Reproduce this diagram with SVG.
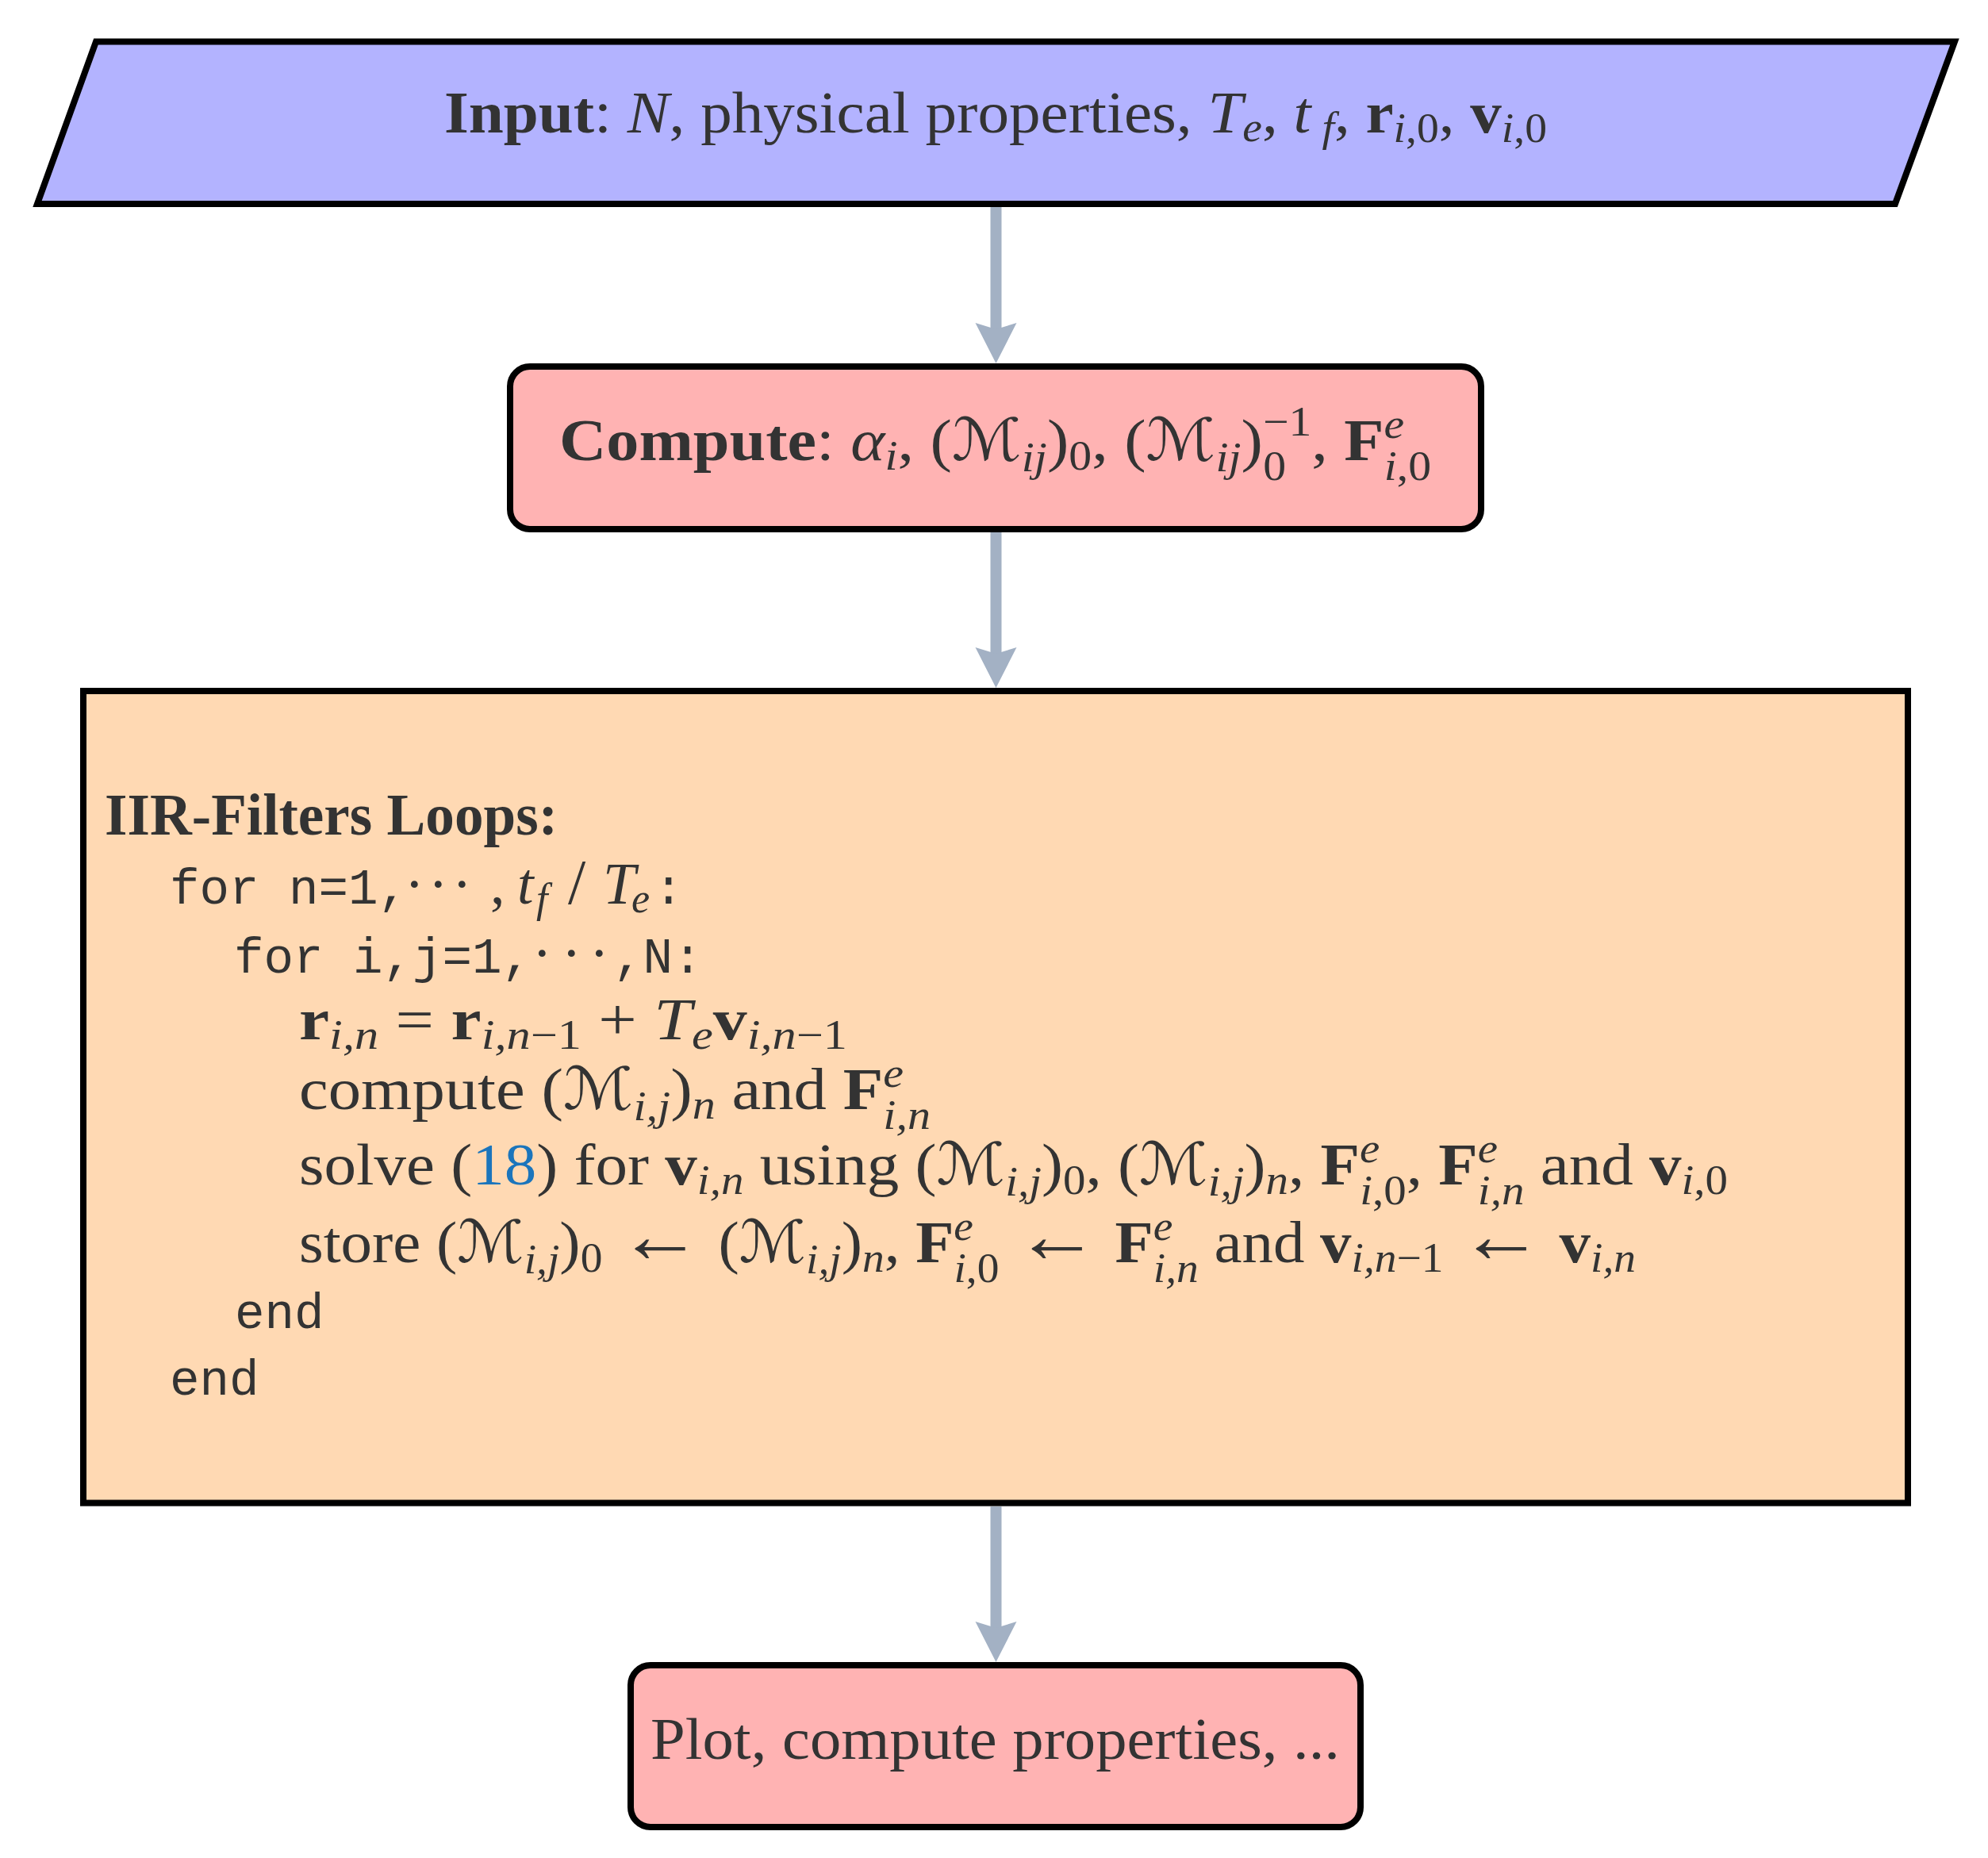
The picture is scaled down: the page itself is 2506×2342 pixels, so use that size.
<svg xmlns="http://www.w3.org/2000/svg" width="2506" height="2342" viewBox="0 0 2506 2342">
<style>
.node{stroke:#000;stroke-width:8;stroke-linejoin:miter}
.in{fill:#B3B3FF}
.pk{fill:#FFB3B3}
.or{fill:#FFD9B3}
.conn{fill:none;stroke:#A3B1C4;stroke-width:14}
.t{font-family:"Liberation Serif","DejaVu Serif",serif;font-size:74px;fill:#333333}
.m{font-family:"Liberation Mono","DejaVu Sans Mono",monospace;font-size:62.5px;fill:#333333}
.b{font-weight:bold}
.i{font-style:italic}
.s{font-size:52px}
.cal{font-family:"DejaVu Sans",sans-serif;font-size:74px;font-style:normal;font-weight:normal}
.ar{font-family:"Liberation Serif","DejaVu Serif",serif;font-size:100px;font-style:normal;font-weight:normal}
.ref{fill:#1B75BC}
</style>
<defs>
<marker id="ah" markerUnits="userSpaceOnUse" viewBox="-10 -27 55 54" refX="0" refY="0" markerWidth="55" markerHeight="54" orient="auto">
<path d="M43,0 L-8,-26 L0,0 L-8,26 Z" fill="#A3B1C4"/>
</marker>
</defs>
<rect width="2506" height="2342" fill="#fff"/>

<g id="input">
<polygon class="node in" points="121,52.5 2464,52.5 2389,257 47,257"/>
<text class="t" x="560" y="167" textLength="1390" lengthAdjust="spacingAndGlyphs"><tspan class="b">Input</tspan>: <tspan class="i">N</tspan>, physical properties, <tspan class="i">T</tspan><tspan class="s i" dy="11">e</tspan><tspan dy="-11">, </tspan><tspan class="i">t</tspan><tspan class="s i" dy="11"> f</tspan><tspan dy="-11">, </tspan><tspan class="b">r</tspan><tspan class="s" dy="12"><tspan class="i">i</tspan>,0</tspan><tspan dy="-12">, </tspan><tspan class="b">v</tspan><tspan class="s" dy="12"><tspan class="i">i</tspan>,0</tspan></text>
</g>

<g id="compute">
<rect class="node pk" x="643" y="462" width="1224" height="205" rx="25"/>
<text class="t" x="705" y="580" textLength="1099" lengthAdjust="spacingAndGlyphs"><tspan class="b">Compute</tspan>: <tspan class="i">α</tspan><tspan class="s i" dy="12">i</tspan><tspan dy="-12">, (</tspan><tspan class="cal">ℳ</tspan><tspan class="s i" dy="14">ij</tspan><tspan dy="-14">)</tspan><tspan class="s" dy="12">0</tspan><tspan dy="-12">, (</tspan><tspan class="cal">ℳ</tspan><tspan class="s i" dy="14">ij</tspan><tspan dy="-14">)</tspan><tspan class="s" dy="-31">−1</tspan><tspan class="s" dx="-55" dy="56">0</tspan><tspan dx="29" dy="-25">, </tspan><tspan class="b">F</tspan><tspan class="s i" dy="-28">e</tspan><tspan class="s" dx="-23" dy="53"><tspan class="i">i</tspan>,0</tspan></text>
</g>

<g id="loops">
<rect class="node or" x="105" y="871" width="2300" height="1023.5"/>
<text class="t b" x="132" y="1052" textLength="571" lengthAdjust="spacingAndGlyphs">IIR-Filters Loops:</text>
<text class="m" x="214" y="1139">for n=1,</text>
<text class="t" y="1139" x="510 540 570">···</text>
<text class="t" x="618" y="1139">,</text>
<text class="t i" x="652" y="1139">t<tspan class="s" x="676" dy="11">f</tspan><tspan x="716" dy="-11" style="font-style:normal;font-size:80px">/</tspan><tspan x="760">T</tspan><tspan class="s" x="796" dy="11">e</tspan></text>
<text class="m" x="824" y="1139">:</text>
<text class="m" x="295" y="1225.5">for i,j=1,</text>
<text class="t" y="1225.5" x="671 708 743">···</text>
<text class="m" x="773" y="1225.5">,N:</text>
<text class="t" x="377" y="1310" textLength="691" lengthAdjust="spacingAndGlyphs"><tspan class="b">r</tspan><tspan class="s i" dy="12">i,n</tspan><tspan dy="-12"> = </tspan><tspan class="b">r</tspan><tspan class="s" dy="12"><tspan class="i">i,n</tspan>−1</tspan><tspan dy="-12"> + </tspan><tspan class="i">T</tspan><tspan class="s i" dy="12">e</tspan><tspan class="b" dy="-12">v</tspan><tspan class="s" dy="12"><tspan class="i">i,n</tspan>−1</tspan></text>
<text class="t" x="377" y="1398" textLength="796" lengthAdjust="spacingAndGlyphs">compute (<tspan class="cal">ℳ</tspan><tspan class="s i" dy="14">i,j</tspan><tspan dy="-14">)</tspan><tspan class="s i" dy="12">n</tspan><tspan dy="-12"> and </tspan><tspan class="b">F</tspan><tspan class="s i" dy="-28">e</tspan><tspan class="s i" dx="-23" dy="53">i,n</tspan></text>
<text class="t" x="377" y="1493" textLength="1801" lengthAdjust="spacingAndGlyphs">solve (<tspan class="ref">18</tspan>) for <tspan class="b">v</tspan><tspan class="s i" dy="12">i,n</tspan><tspan dy="-12"> using (</tspan><tspan class="cal">ℳ</tspan><tspan class="s i" dy="14">i,j</tspan><tspan dy="-14">)</tspan><tspan class="s" dy="12">0</tspan><tspan dy="-12">, (</tspan><tspan class="cal">ℳ</tspan><tspan class="s i" dy="14">i,j</tspan><tspan dy="-14">)</tspan><tspan class="s i" dy="12">n</tspan><tspan dy="-12">, </tspan><tspan class="b">F</tspan><tspan class="s i" dy="-28">e</tspan><tspan class="s" dx="-23" dy="53"><tspan class="i">i</tspan>,0</tspan><tspan dy="-25">, </tspan><tspan class="b">F</tspan><tspan class="s i" dy="-28">e</tspan><tspan class="s i" dx="-23" dy="53">i,n</tspan><tspan dy="-25"> and </tspan><tspan class="b">v</tspan><tspan class="s" dy="12"><tspan class="i">i</tspan>,0</tspan></text>
<text class="t" x="377" y="1591" textLength="1685" lengthAdjust="spacingAndGlyphs">store (<tspan class="cal">ℳ</tspan><tspan class="s i" dy="14">i,j</tspan><tspan dy="-14">)</tspan><tspan class="s" dy="12">0</tspan><tspan dy="-12"> </tspan><tspan class="ar">←</tspan> (<tspan class="cal">ℳ</tspan><tspan class="s i" dy="14">i,j</tspan><tspan dy="-14">)</tspan><tspan class="s i" dy="12">n</tspan><tspan dy="-12">, </tspan><tspan class="b">F</tspan><tspan class="s i" dy="-28">e</tspan><tspan class="s" dx="-23" dy="53"><tspan class="i">i</tspan>,0</tspan><tspan dy="-25"> </tspan><tspan class="ar">←</tspan> <tspan class="b">F</tspan><tspan class="s i" dy="-28">e</tspan><tspan class="s i" dx="-23" dy="53">i,n</tspan><tspan dy="-25"> and </tspan><tspan class="b">v</tspan><tspan class="s" dy="12"><tspan class="i">i,n</tspan>−1</tspan><tspan dy="-12"> </tspan><tspan class="ar">←</tspan> <tspan class="b">v</tspan><tspan class="s i" dy="12">i,n</tspan></text>
<text class="m" x="296" y="1674">end</text>
<text class="m" x="214" y="1758">end</text>
</g>

<g id="plot">
<rect class="node pk" x="795" y="2099" width="920" height="204" rx="25"/>
<text class="t" x="820" y="2217" textLength="869" lengthAdjust="spacingAndGlyphs">Plot, compute properties, ...</text>
</g>

<g id="connectors">
<path class="conn" d="M1255.5,261 V415" marker-end="url(#ah)"/>
<path class="conn" d="M1255.5,671 V824" marker-end="url(#ah)"/>
<path class="conn" d="M1255.5,1899 V2052" marker-end="url(#ah)"/>
</g>
</svg>
